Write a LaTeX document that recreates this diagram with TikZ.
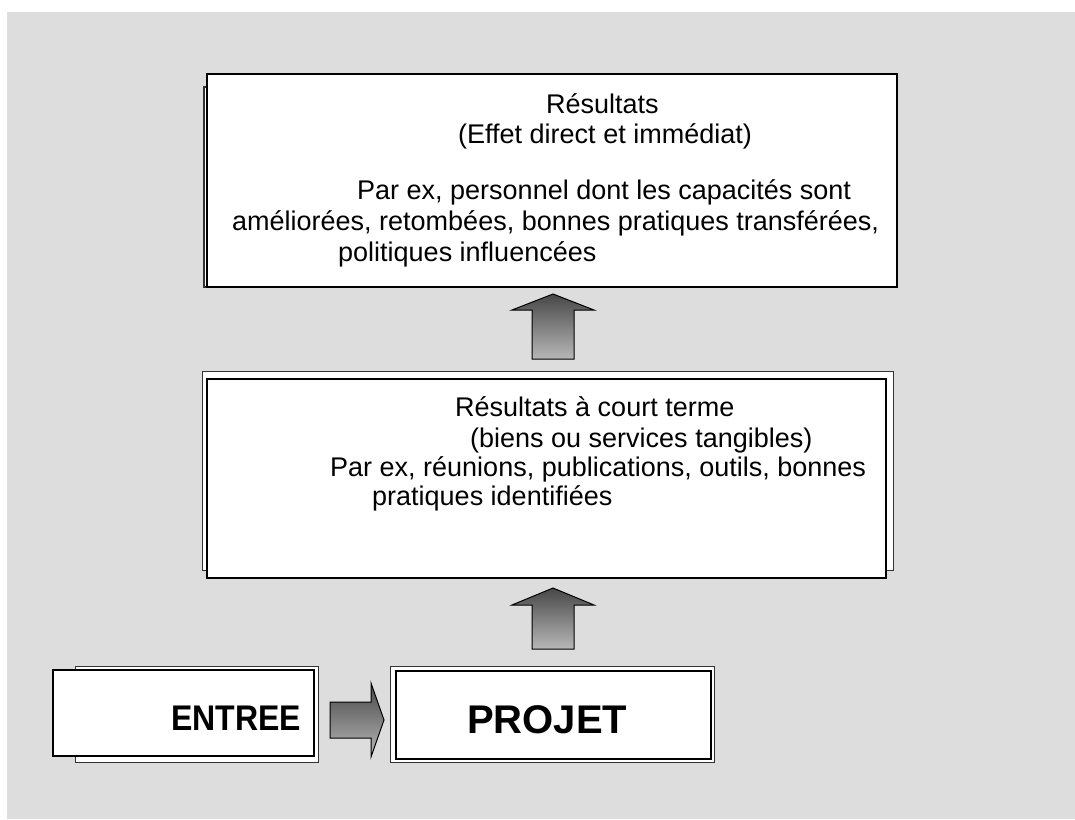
\documentclass[tikz,border=0pt]{standalone}
\usepackage{fontspec}
\setmainfont{Liberation Sans}
\usetikzlibrary{calc}
\definecolor{bg}{RGB}{221,221,221}
\tikzset{
  frontbox/.style={draw=black, line width=2pt, fill=white, inner sep=0pt, anchor=north west},
  backbox/.style={draw=black!80, line width=1pt, fill=white, inner sep=0pt, anchor=north west},
  txt/.style={anchor=base west, inner sep=0pt, font=\fontsize{27}{31}\selectfont},
  boldtxt/.style={anchor=base west, inner sep=0pt, font=\bfseries\fontsize{33}{38}\selectfont},
  blockarrow/.style={draw=black, line width=1pt, top color=black!72, bottom color=black!28},
}
\begin{document}
\begin{tikzpicture}[x=1pt,y=-1pt]
\useasboundingbox (0,0) rectangle (1075,819);
\fill[bg] (7,12) rectangle (1075,819);

% top box
\node[backbox, line width=2pt, minimum width=680pt, minimum height=200pt] (resb) at (203,86) {};
\node[frontbox, minimum width=690pt, minimum height=213pt] (res) at (206,73) {};
\node[txt] (r1) at (546,113) {Résultats};
\node[txt] (r2) at (458,143) {(Effet direct et immédiat)};
\node[txt] (r3) at (357,199) {Par ex, personnel dont les capacités sont};
\node[txt] (r4) at (232,230) {améliorées, retombées, bonnes pratiques transférées,};
\node[txt] (r5) at (338,261) {politiques influencées};

% middle box
\node[backbox, minimum width=691pt, minimum height=199pt] (midb) at (202,371) {};
\node[frontbox, minimum width=679pt, minimum height=199pt] (mid) at (206,378) {};
\node[txt] (m1) at (455,416) {Résultats à court terme};
\node[txt] (m2) at (470,447) {(biens ou services tangibles)};
\node[txt] (m3) at (330,476) {Par ex, réunions, publications, outils, bonnes};
\node[txt] (m4) at (372,505) {pratiques identifiées};

% bottom boxes
\node[backbox, minimum width=243pt, minimum height=96pt] (entb) at (75,666) {};
\node[frontbox, minimum width=261pt, minimum height=86pt] (ent) at (52,669) {};
\node[boldtxt] (entt) at (171,730) {\scalebox{0.97}[1.08]{ENTREE}};
\node[backbox, minimum width=324pt, minimum height=96pt] (projb) at (390,666) {};
\node[frontbox, minimum width=315pt, minimum height=88pt] (proj) at (395,670) {};
\node[boldtxt, font=\bfseries\fontsize{40}{44}\selectfont] (projt) at (467,733) {PROJET};

% block arrows
\coordinate (t1) at ($(res.south)+(1,6)$);
\shade[blockarrow] (t1) -- ++(41,16) -- ++(-20,0) -- ++(0,49) -- ++(-42,0) -- ++(0,-49) -- ++(-20,0) -- cycle;
\coordinate (t2) at ($(mid.south)+(6.5,9)$);
\shade[blockarrow] (t2) -- ++(41,17) -- ++(-20,0) -- ++(0,44) -- ++(-42,0) -- ++(0,-44) -- ++(-20,0) -- cycle;
\coordinate (t3) at ($(proj.west)+(-11,5)$);
\shade[blockarrow] (t3) -- ++(-13,-37) -- ++(0,19) -- ++(-41,0) -- ++(0,36) -- ++(41,0) -- ++(0,19) -- cycle;
\end{tikzpicture}
\end{document}
